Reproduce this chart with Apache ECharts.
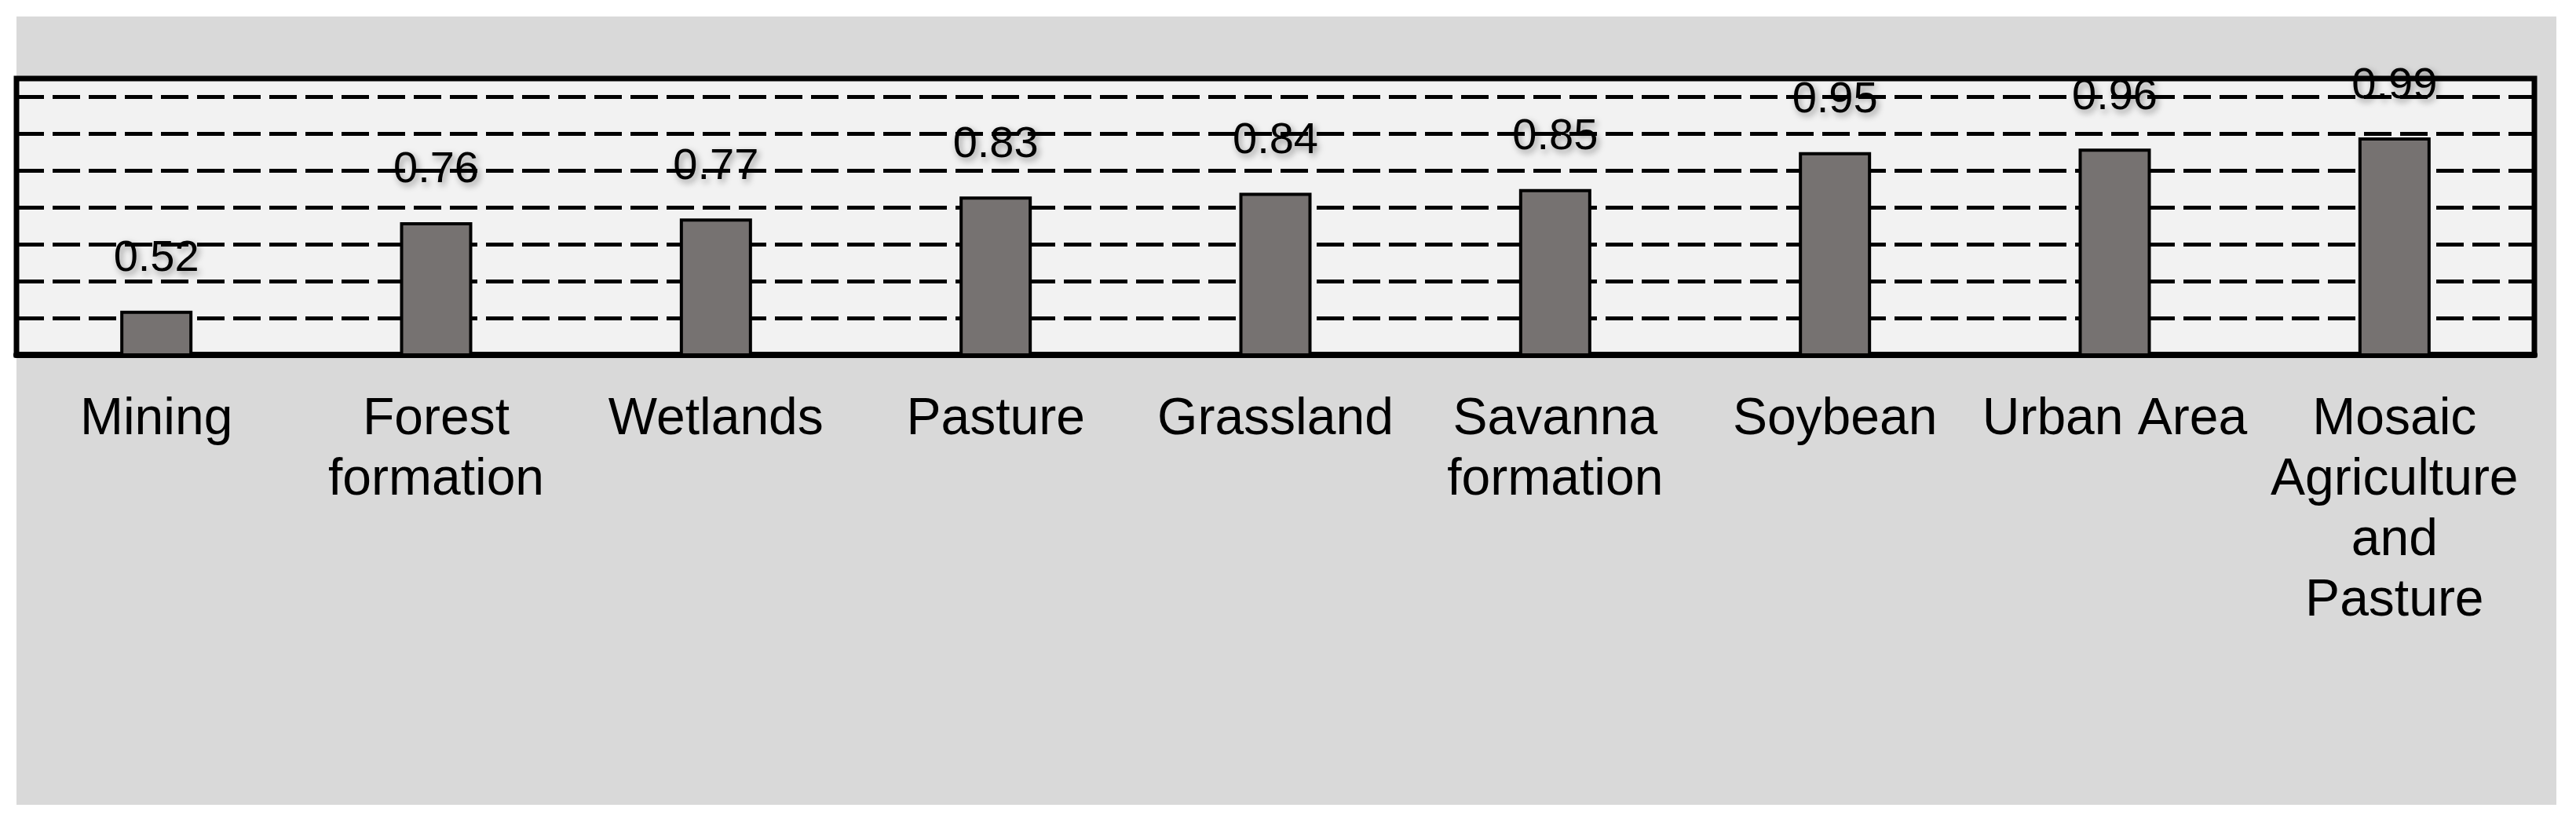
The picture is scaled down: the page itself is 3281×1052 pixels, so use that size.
<!DOCTYPE html>
<html>
<head>
    <meta charset="utf-8">
    <title>Land cover accuracy</title>
    <script src="https://cdn.jsdelivr.net/npm/echarts@6/dist/echarts.min.js"></script>
    <style>
        html, body { margin: 0; padding: 0; background: #ffffff; }
        #chart { width: 3281px; height: 1052px; }
    </style>
</head>
<body>
<div id="chart"></div>
<script>
    // categories and values
    var categories = ['Mining', 'Forest\nformation', 'Wetlands', 'Pasture', 'Grassland',
        'Savanna\nformation', 'Soybean', 'Urban Area', 'Mosaic\nAgriculture\nand\nPasture'];
    var values = [0.52, 0.76, 0.77, 0.83, 0.84, 0.85, 0.95, 0.96, 0.99];

    var font = '"Liberation Sans", Arial, sans-serif';
    var chart = echarts.init(document.getElementById('chart'));

    chart.setOption({
        animation: false,
        backgroundColor: '#ffffff',
        graphic: [{
            type: 'rect',
            z: -100,
            shape: {x: 21, y: 21, width: 3235, height: 1004},
            style: {fill: '#d9d9d9'}
        }],
        grid: {
            left: 21,
            right: 53,
            top: 100,
            bottom: 600,
            show: true,
            backgroundColor: '#f2f2f2',
            borderColor: '#000000',
            borderWidth: 7
        },
        xAxis: {
            type: 'category',
            data: categories,
            axisLine: {show: true, lineStyle: {color: '#000000', width: 8}},
            axisTick: {show: false},
            axisLabel: {
                interval: 0,
                margin: 44,
                color: '#000000',
                fontFamily: font,
                fontSize: 66,
                lineHeight: 77
            }
        },
        yAxis: {
            type: 'value',
            min: 0.4,
            max: 1.15,
            interval: 0.1,
            axisLine: {show: false},
            axisTick: {show: false},
            axisLabel: {show: false},
            splitLine: {
                show: true,
                lineStyle: {color: '#000000', width: 5, type: [35, 11]}
            }
        },
        series: [{
            type: 'bar',
            data: values,
            barWidth: 92,
            itemStyle: {color: '#767271', borderColor: '#000000', borderWidth: 4},
            label: {
                show: true,
                position: 'top',
                distance: 38,
                color: '#000000',
                fontFamily: font,
                fontSize: 56,
                textShadowColor: 'rgba(0,0,0,0.4)',
                textShadowBlur: 8,
                textShadowOffsetX: 3,
                textShadowOffsetY: 4
            }
        }]
    });
</script>
</body>
</html>
